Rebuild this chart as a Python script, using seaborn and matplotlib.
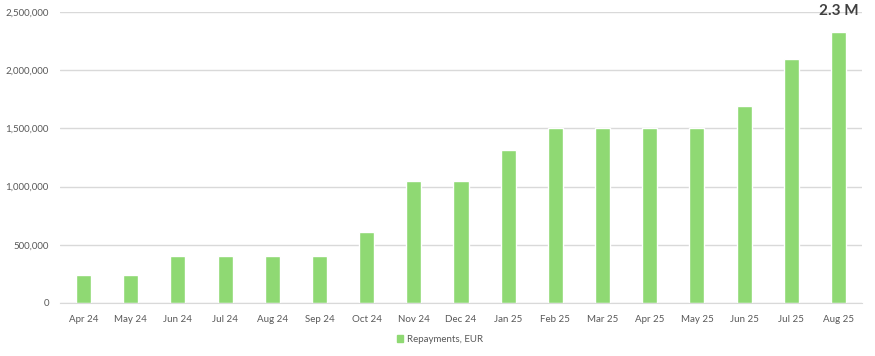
import matplotlib.pyplot as plt
import matplotlib.ticker as mticker
from matplotlib.patches import Patch
import pandas as pd
import seaborn as sns

months = ["Apr 24", "May 24", "Jun 24", "Jul 24", "Aug 24", "Sep 24", "Oct 24",
          "Nov 24", "Dec 24", "Jan 25", "Feb 25", "Mar 25", "Apr 25", "May 25",
          "Jun 25", "Jul 25", "Aug 25"]
repayments = [243000, 243000, 408000, 408000, 408000, 408000, 614000,
              1045000, 1045000, 1317000, 1503000, 1503000, 1503000, 1503000,
              1695000, 2096000, 2331000]
series_name = "Repayments, EUR"
last_label = "2.3 M"

df = pd.DataFrame({"Month": months, "Value": repayments})

sns.set_style("white")
plt.rcParams['font.family'] = ['Lato', 'DejaVu Sans']

fig = plt.figure(figsize=(8.75, 3.56), dpi=100)
ax = fig.add_axes([60 / 875, 1 - 303 / 356, 802 / 875, 291 / 356])

green = "#8fd973"
sns.barplot(data=df, x="Month", y="Value", color=green, width=0.32,
            saturation=1, ax=ax)

ax.set_ylim(0, 2500000)
ax.set_xlim(-0.5, len(months) - 0.5)
ax.yaxis.set_major_locator(mticker.MultipleLocator(500000))
ax.yaxis.set_major_formatter(mticker.FuncFormatter(lambda v, p: f"{int(v):,}"))
ax.grid(axis="y", color="#d9d9d9", linewidth=1)
ax.set_axisbelow(True)
for s in ["top", "right", "left"]:
    ax.spines[s].set_visible(False)
ax.spines["bottom"].set_color("#d9d9d9")
ax.tick_params(axis="both", length=0, labelsize=7, labelcolor="#595959")
ax.tick_params(axis="x", pad=9)
ax.tick_params(axis="y", pad=8)
ax.set_xlabel("")
ax.set_ylabel("")

ax.annotate(last_label, (len(months) - 1, repayments[-1]), xytext=(0, 10),
            textcoords="offset points", ha="center", va="bottom",
            fontsize=11, fontweight="bold", color="#404040")

fig.legend(handles=[Patch(color=green, label=series_name)], loc="center",
           bbox_to_anchor=(440 / 875, 1 - 339 / 356), frameon=False,
           fontsize=7, labelcolor="#595959", handlelength=0.7,
           handleheight=0.7, handletextpad=0.4)

fig.savefig("out.png", dpi=100)
